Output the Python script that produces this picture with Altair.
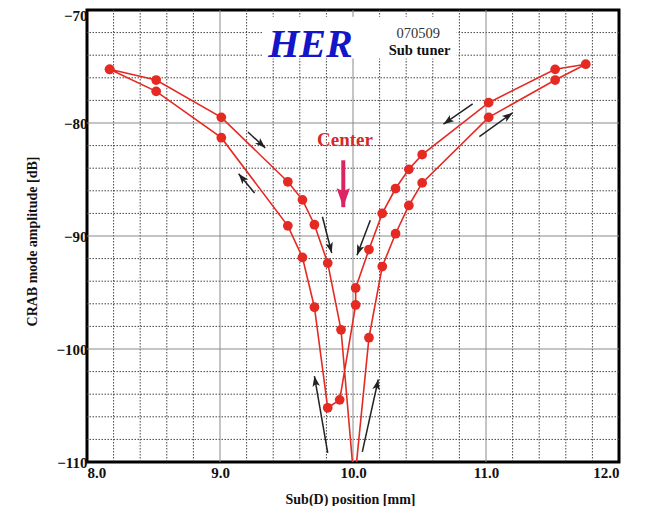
import math
import altair as alt
import pandas as pd
import numpy as np

# ---- data ----
x_fwd = [8.17, 8.52, 9.01, 9.51, 9.62, 9.71, 9.81, 9.91, 10.01, 10.12, 10.22, 10.32, 10.42, 10.52, 11.02, 11.52, 11.75]
y_fwd = [-75.25, -76.2, -79.5, -85.2, -86.8, -89.0, -92.4, -98.3, -112.0, -99.0, -92.7, -89.8, -87.3, -85.3, -79.5, -76.2, -74.8]
x_bwd = [11.52, 11.02, 10.52, 10.42, 10.32, 10.22, 10.12, 10.02, 10.02, 9.90, 9.81, 9.71, 9.62, 9.51, 9.01, 8.52, 8.17]
y_bwd = [-75.25, -78.2, -82.8, -84.1, -85.8, -88.0, -91.2, -94.6, -96.1, -104.5, -105.2, -96.3, -91.9, -89.1, -81.3, -77.2, -75.25]

# direction arrows (tail -> tip), data units
arr_x0 = [9.21, 9.26, 9.77, 10.13, 10.90, 10.95, 9.81, 10.07]
arr_y0 = [-80.8, -86.2, -88.3, -88.6, -78.3, -81.2, -109.2, -109.1]
arr_x1 = [9.34, 9.14, 9.84, 10.03, 10.68, 11.20, 9.71, 10.19]
arr_y1 = [-82.2, -84.5, -91.5, -91.7, -80.1, -79.1, -102.4, -102.7]

# "Center" marker arrow
center_x = [9.927]
center_y0 = [-83.3]
center_y1 = [-87.45]

# white label box behind the title texts
box_x = [9.32, 10.78]
box_y = [-70.6, -74.3]

x_ticks = [8.0, 9.0, 10.0, 11.0, 12.0]
y_ticks = [-110, -100, -90, -80, -70]
x_minor = [round(v, 1) for v in np.arange(8.2, 12.0, 0.2) if abs(v - round(v)) > 1e-6]
y_minor = [v for v in range(-108, -70, 2) if v % 10 != 0]

# ---- layout ----
W, H = 532, 452
XD, YD = [8.0, 12.0], [-110.0, -70.0]
pxx = W / (XD[1] - XD[0])
pxy = H / (YD[1] - YD[0])

FONT = "Liberation Serif"
RED = "#e42a22"

xs = alt.Scale(domain=XD, nice=False, zero=False)
ys = alt.Scale(domain=YD, nice=False, zero=False)

xs_all = x_fwd + x_bwd
ys_all = y_fwd + y_bwd
curve = pd.DataFrame({"x": xs_all, "y": ys_all, "i": list(range(len(xs_all)))})
pts = curve[curve["y"] >= -110]

def ang(x0, y0, x1, y1):
    dx = (x1 - x0) * pxx
    dy = -(y1 - y0) * pxy
    return math.degrees(math.atan2(dx, -dy)) % 360

arrows = pd.DataFrame({"x0": arr_x0, "y0": arr_y0, "x1": arr_x1, "y1": arr_y1})
arrows["a"] = [ang(*r) for r in zip(arr_x0, arr_y0, arr_x1, arr_y1)]

cen = pd.DataFrame({"x": center_x, "y0": center_y0, "y1": center_y1})
cen["a"] = [ang(center_x[0], center_y0[0], center_x[0], center_y1[0])]

HEAD = "M0,0L0.75,2.1L0,1.6L-0.75,2.1Z"

X = lambda f: alt.X(f, type="quantitative", scale=xs,
                    axis=alt.Axis(values=x_ticks, format=".1f", grid=False, ticks=False, domain=False,
                                  labelFont=FONT, labelFontSize=15, labelFontWeight="bold", labelColor="#111",
                                  labelPadding=3, title="Sub(D) position [mm]", titleFont=FONT,
                                  titleFontSize=14, titleFontWeight="bold", titleColor="#111",
                                  titleX=263, titleY=37, titleBaseline="middle"))
Y = lambda f: alt.Y(f, type="quantitative", scale=ys,
                    axis=alt.Axis(values=y_ticks, format="d", grid=False, ticks=False, domain=False,
                                  labelFont=FONT, labelFontSize=15, labelFontWeight="bold", labelColor="#111",
                                  labelPadding=0,
                                  labelBaseline={"condition": {"test": "datum.value == -70", "value": "top"},
                                                 "value": "middle"},
                                  labelOffset={"condition": {"test": "datum.value == -70", "value": -2},
                                               "value": 0},
                                  title="CRAB mode amplitude [dB]", titleFont=FONT,
                                  titleFontSize=14, titleFontWeight="bold", titleColor="#111",
                                  titleX=-55, titleY=231, titleBaseline="middle", titleAlign="center"))

minor_x = alt.Chart(pd.DataFrame({"v": x_minor})).mark_rule(
    color="#444", strokeWidth=1, strokeDash=[1.5, 1.5]).encode(x=X("v"))
minor_y = alt.Chart(pd.DataFrame({"v": y_minor})).mark_rule(
    color="#444", strokeWidth=1, strokeDash=[1.5, 1.5]).encode(y=Y("v"))
major_x = alt.Chart(pd.DataFrame({"v": x_ticks[1:-1]})).mark_rule(
    color="#8a8a8a", strokeWidth=1).encode(x=X("v"))
major_y = alt.Chart(pd.DataFrame({"v": y_ticks[1:-1]})).mark_rule(
    color="#8a8a8a", strokeWidth=1).encode(y=Y("v"))

box = alt.Chart(pd.DataFrame({"x": [box_x[0]], "x2": [box_x[1]], "y": [box_y[0]], "y2": [box_y[1]]})).mark_rect(
    color="white").encode(x=X("x"), x2="x2", y=Y("y"), y2="y2")

line = alt.Chart(curve).mark_line(color=RED, strokeWidth=1.6, clip=True).encode(
    x=X("x"), y=Y("y"), order="i:Q")
dots = alt.Chart(pts).mark_point(filled=True, shape="circle", size=95, color=RED, opacity=1).encode(
    x=X("x"), y=Y("y"))

shafts = alt.Chart(arrows).mark_rule(color="#222", strokeWidth=1.5).encode(
    x=X("x0"), y=Y("y0"), x2="x1", y2="y1")
heads = alt.Chart(arrows).mark_point(shape=HEAD, filled=True, size=100, color="#222", opacity=1).encode(
    x=X("x1"), y=Y("y1"), angle=alt.Angle("a:Q", scale=None))

cshaft = alt.Chart(cen).mark_rule(color="#dc2464", strokeWidth=4).encode(
    x=X("x"), y=Y("y0"), y2=alt.Y2("y1"))
chead = alt.Chart(cen).mark_point(shape="M0,0L0.7,2L0,1.7L-0.7,2Z", filled=True, size=361,
                                  color="#dc2464", opacity=1).encode(
    x=X("x"), y=Y("y1"), angle=alt.Angle("a:Q", scale=None))

def label(txt, x, y, size, color, weight="normal", style="normal"):
    return alt.Chart(pd.DataFrame({"x": [x], "y": [y], "t": [txt]})).mark_text(
        font=FONT, fontSize=size, fontWeight=weight, fontStyle=style, color=color,
        align="center", baseline="middle").encode(x=X("x"), y=Y("y"), text="t:N")

her = label("HER", 9.68, -73.1, 40, "#1414c8", "bold", "italic")
date = label("070509", 10.49, -72.1, 14.5, "#333333")
sub = label("Sub tuner", 10.50, -73.65, 14.5, "#111111", "bold")
center = label("Center", 9.94, -81.5, 19, "#d42a2a", "bold")

chart = alt.layer(
    minor_x, minor_y, major_x, major_y, box, line, dots, shafts, heads, cshaft, chead,
    her, date, sub, center
).properties(
    width=W, height=H,
    autosize=alt.AutoSizeParams(type="none"),
    padding={"left": 79, "top": 2, "right": 23, "bottom": 44},
    background="white",
).configure_view(stroke="black", strokeWidth=3)

chart.save("out.html", embed_options={"renderer": "svg", "actions": False})
